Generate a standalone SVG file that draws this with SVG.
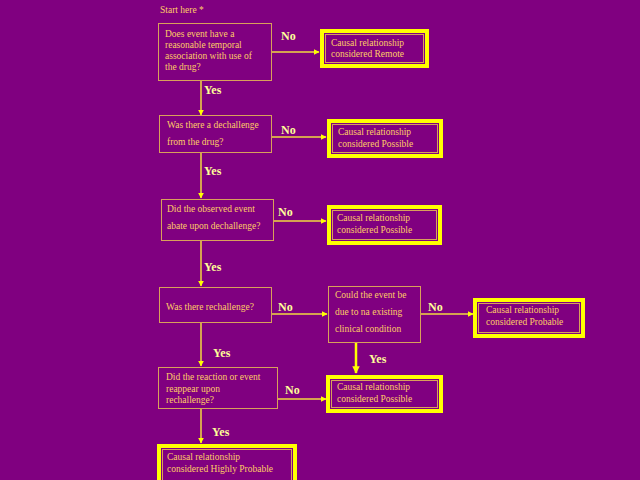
<svg xmlns="http://www.w3.org/2000/svg" width="640" height="480" viewBox="0 0 640 480">
<defs>
<marker id="ah" viewBox="0 0 10 10" refX="9" refY="5" markerWidth="4" markerHeight="4" orient="auto" markerUnits="strokeWidth">
<path d="M0,0 L10,5 L0,10 z" fill="#FFFF00"/>
</marker>
<marker id="ahb" viewBox="0 0 10 10" refX="9" refY="5" markerWidth="3" markerHeight="3" orient="auto" markerUnits="strokeWidth">
<path d="M0,0 L10,5 L0,10 z" fill="#FFFF00"/>
</marker>
<style>
.t{font-family:"Liberation Serif","Times New Roman",serif;font-size:9.5px;fill:#FFCC66}
.lb{font-family:"Liberation Serif","Times New Roman",serif;font-size:12px;font-weight:bold;fill:#FFFF99}
.dec{fill:none;stroke:#D9A15A;stroke-width:1}
.outo{fill:none;stroke:#FFFF00;stroke-width:4}
.outi{fill:none;stroke:#D9A15A;stroke-width:1}
.c{fill:none;stroke:#F2D840;stroke-width:1.5;marker-end:url(#ah)}
.cb{fill:none;stroke:#FFFF00;stroke-width:2.5;marker-end:url(#ahb)}
</style>
</defs>
<rect width="640" height="480" fill="#800080"/>
<text class="t" x="160" y="13">Start here *</text>

<g id="connectors">
<line class="c" x1="271" y1="52" x2="319" y2="52"/>
<line class="c" x1="201" y1="80" x2="201" y2="115"/>
<line class="c" x1="271" y1="137" x2="326" y2="137"/>
<line class="c" x1="201" y1="152" x2="201" y2="198"/>
<line class="c" x1="273" y1="221" x2="326" y2="221"/>
<line class="c" x1="201" y1="240" x2="201" y2="286"/>
<line class="c" x1="271" y1="314" x2="327" y2="314"/>
<line class="c" x1="420" y1="314" x2="473" y2="314"/>
<line class="cb" x1="356" y1="342" x2="356" y2="373"/>
<line class="c" x1="201" y1="322" x2="201" y2="366"/>
<line class="c" x1="277" y1="399" x2="326" y2="399"/>
<line class="c" x1="201" y1="408" x2="201" y2="443"/>
<text class="lb" x="281" y="40">No</text>
<text class="lb" x="204" y="94">Yes</text>
<text class="lb" x="281" y="134">No</text>
<text class="lb" x="204" y="175">Yes</text>
<text class="lb" x="278" y="216">No</text>
<text class="lb" x="204" y="271">Yes</text>
<text class="lb" x="278" y="311">No</text>
<text class="lb" x="428" y="311">No</text>
<text class="lb" x="369" y="363">Yes</text>
<text class="lb" x="213" y="357">Yes</text>
<text class="lb" x="285" y="394">No</text>
<text class="lb" x="212" y="436">Yes</text>
</g>

<g id="q1">
<rect class="dec" x="158.5" y="23.5" width="113" height="57"/>
<text class="t" x="165" y="37">Does event have a</text>
<text class="t" x="165" y="48">reasonable temporal</text>
<text class="t" x="165" y="59">association with use of</text>
<text class="t" x="165" y="70">the drug?</text>
</g>
<g id="remote">
<rect class="outo" x="322" y="31" width="105" height="35"/>
<rect class="outi" x="325.5" y="34.5" width="98" height="28"/>
<text class="t" x="331" y="46">Causal relationship</text>
<text class="t" x="331" y="57">considered Remote</text>
</g>

<g id="q2">
<rect class="dec" x="159.5" y="115.5" width="112" height="37"/>
<text class="t" x="167" y="128">Was there a dechallenge</text>
<text class="t" x="167" y="145">from the drug?</text>
</g>
<g id="possible1">
<rect class="outo" x="329" y="121" width="112" height="35"/>
<rect class="outi" x="332.5" y="124.5" width="105" height="28"/>
<text class="t" x="338" y="135">Causal relationship</text>
<text class="t" x="338" y="147">considered Possible</text>
</g>

<g id="q3">
<rect class="dec" x="161.5" y="199.5" width="112" height="41"/>
<text class="t" x="167" y="212">Did the observed event</text>
<text class="t" x="167" y="229">abate upon dechallenge?</text>
</g>
<g id="possible2">
<rect class="outo" x="329" y="207" width="111" height="36"/>
<rect class="outi" x="332.5" y="210.5" width="104" height="29"/>
<text class="t" x="337" y="221">Causal relationship</text>
<text class="t" x="337" y="233">considered Possible</text>
</g>

<g id="q4">
<rect class="dec" x="159.5" y="287.5" width="112" height="35"/>
<text class="t" x="166" y="310">Was there rechallenge?</text>
</g>
<g id="q5">
<rect class="dec" x="328.5" y="286.5" width="92" height="56"/>
<text class="t" x="335" y="298">Could the event be</text>
<text class="t" x="335" y="315">due to na existing</text>
<text class="t" x="335" y="332">clinical condition</text>
</g>
<g id="probable">
<rect class="outo" x="475" y="300" width="108" height="36"/>
<rect class="outi" x="478.5" y="303.5" width="101" height="29"/>
<text class="t" x="486" y="313">Causal relationship</text>
<text class="t" x="486" y="325">considered Probable</text>
</g>

<g id="q6">
<rect class="dec" x="158.5" y="367.5" width="119" height="41"/>
<text class="t" x="166" y="380">Did the reaction or event</text>
<text class="t" x="166" y="392">reappear upon</text>
<text class="t" x="166" y="403">rechallenge?</text>
</g>
<g id="possible3">
<rect class="outo" x="328" y="377" width="113" height="34"/>
<rect class="outi" x="331.5" y="380.5" width="106" height="27"/>
<text class="t" x="337" y="390">Causal relationship</text>
<text class="t" x="337" y="402">considered Possible</text>
</g>

<g id="highly">
<rect class="outo" x="159" y="446" width="136" height="40"/>
<rect class="outi" x="162.5" y="449.5" width="129" height="33"/>
<text class="t" x="167" y="460">Causal relationship</text>
<text class="t" x="167" y="472">considered Highly Probable</text>
</g>
</svg>
